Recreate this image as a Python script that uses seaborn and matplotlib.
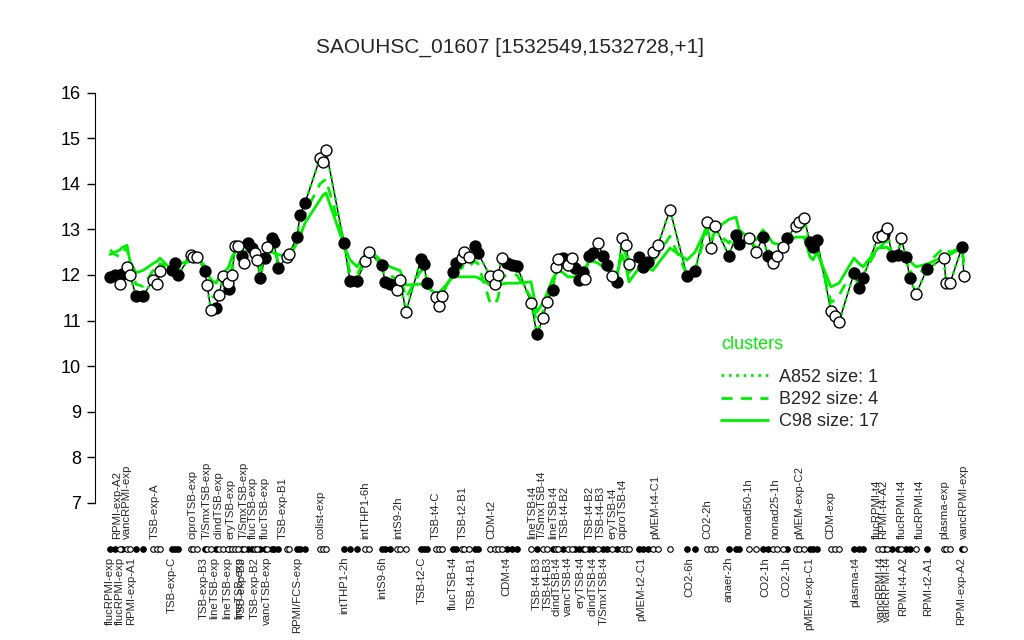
import numpy as np
import pandas as pd
import matplotlib
matplotlib.use("Agg")
import matplotlib.pyplot as plt
import seaborn as sns

# sample position along x, expression, filled marker flag, cluster means
pos = [10, 15, 20, 22, 27, 30, 36, 43, 53, 57,
       60, 72, 75, 78, 91, 93, 97, 105, 107, 111,
       116, 119, 123, 128, 129, 132, 135, 138, 142, 144,
       148, 152, 155, 157, 160, 165, 167, 172, 174, 178,
       187, 189, 197, 200, 205, 220, 223, 226, 244, 250,
       257, 265, 269, 282, 285, 290, 297, 300, 306, 321,
       324, 327, 336, 339, 342, 353, 356, 362, 364, 369,
       375, 378, 390, 395, 398, 402, 407, 412, 417, 431,
       437, 443, 447, 453, 456, 458, 463, 468, 472, 475,
       479, 483, 485, 489, 493, 498, 503, 507, 512, 517,
       522, 526, 529, 539, 543, 548, 553, 558, 570, 587,
       595, 607, 611, 615, 629, 636, 639, 649, 656, 663,
       668, 673, 677, 683, 687, 696, 699, 704, 710, 713,
       717, 731, 735, 739, 754, 759, 763, 778, 782, 784,
       787, 792, 798, 801, 806, 810, 816, 827, 844, 846, 850,
       862, 864]

expr = [11.96, 12.00, 11.80, 12.02, 12.18, 12.00, 11.54, 11.54, 11.89, 11.80,
        12.09, 12.10, 12.26, 12.00, 12.44, 12.40, 12.40, 12.09, 11.78, 11.23,
        11.28, 11.56, 11.98, 11.82, 11.70, 12.00, 12.64, 12.64, 12.42, 12.26,
        12.70, 12.60, 12.48, 12.33, 11.93, 12.37, 12.61, 12.81, 12.72, 12.15,
        12.40, 12.46, 12.83, 13.31, 13.58, 14.56, 14.48, 14.74, 12.70, 11.87,
        11.87, 12.30, 12.50, 12.22, 11.85, 11.80, 11.67, 11.89, 11.19, 12.35,
        12.24, 11.82, 11.52, 11.32, 11.54, 12.07, 12.26, 12.37, 12.50, 12.40,
        12.64, 12.48, 11.98, 11.80, 12.00, 12.37, 12.26, 12.22, 12.20, 11.39,
        10.70, 11.06, 11.41, 11.67, 12.17, 12.35, 12.37, 12.22, 12.37, 12.15,
        11.89, 12.07, 11.91, 12.42, 12.48, 12.70, 12.42, 12.22, 11.98, 11.85,
        12.81, 12.66, 12.24, 12.40, 12.18, 12.28, 12.50, 12.66, 13.43, 11.98,
        12.09, 13.16, 12.59, 13.07, 12.42, 12.88, 12.68, 12.81, 12.50, 12.83,
        12.42, 12.26, 12.42, 12.61, 12.81, 13.07, 13.16, 13.25, 12.72, 12.61,
        12.77, 11.21, 11.10, 10.97, 12.04, 11.71, 11.93, 12.83, 12.85, 12.90,
        13.03, 12.42, 12.44, 12.81, 12.40, 11.93, 11.58, 12.13, 12.37, 11.82, 11.82,
        12.61, 11.98]

filled = [1, 1, 0, 1, 0, 0, 1, 1, 0, 0,
          0, 1, 1, 1, 0, 0, 0, 1, 0, 0,
          1, 0, 0, 0, 1, 0, 0, 0, 1, 0,
          1, 1, 0, 0, 1, 1, 0, 1, 1, 1,
          0, 0, 1, 1, 1, 0, 0, 0, 1, 1,
          1, 0, 0, 1, 1, 1, 0, 0, 0, 1,
          1, 1, 0, 0, 0, 1, 1, 0, 0, 0,
          1, 1, 0, 0, 0, 0, 1, 1, 1, 0,
          1, 0, 0, 1, 0, 0, 1, 0, 0, 1,
          1, 1, 0, 1, 1, 0, 1, 1, 0, 1,
          0, 0, 0, 1, 1, 1, 0, 0, 0, 1,
          1, 0, 0, 0, 1, 1, 1, 0, 0, 1,
          1, 0, 0, 0, 1, 0, 0, 0, 1, 1,
          1, 0, 0, 0, 1, 1, 1, 0, 0, 1,
          0, 1, 1, 0, 1, 1, 0, 1, 0, 0, 0,
          1, 0]

c98 = [12.45, 12.50, 12.55, 12.60, 12.65, 12.30, 12.05, 12.10, 12.25, 12.30,
       12.37, 12.10, 12.20, 12.25, 12.30, 12.32, 12.37, 12.20, 12.05, 11.90,
       11.82, 11.95, 12.05, 12.15, 12.20, 12.40, 12.50, 12.60, 12.65, 12.68,
       12.60, 12.45, 12.40, 12.33, 12.35, 12.45, 12.50, 12.50, 12.48, 12.45,
       12.40, 12.40, 12.70, 12.85, 13.14, 13.65, 13.75, 13.80, 12.65, 12.33,
       12.18, 12.45, 12.55, 12.30, 12.25, 12.18, 12.12, 12.10, 11.78, 11.80,
       11.75, 11.72, 11.60, 11.62, 11.68, 11.96, 11.96, 11.96, 11.96, 11.96,
       11.96, 11.94, 11.78, 11.78, 11.78, 11.80, 11.82, 11.82, 11.82, 11.85,
       11.19, 11.39, 11.60, 11.93, 12.02, 12.10, 12.05, 11.96, 11.96, 11.96,
       11.96, 12.10, 12.15, 12.30, 12.30, 12.26, 12.18, 12.10, 12.07, 12.04,
       12.44, 12.20, 11.85, 12.15, 12.22, 12.15, 12.10, 12.25, 12.59, 12.33,
       12.50, 13.05, 13.00, 13.00, 13.22, 13.27, 13.00, 12.80, 12.77, 12.99,
       12.85, 12.70, 12.68, 12.66, 12.75, 12.83, 12.83, 12.83, 12.40, 12.33,
       12.50, 11.74, 11.78, 11.82, 12.37, 12.25, 12.18, 12.59, 12.60, 12.60,
       12.61, 12.48, 12.46, 12.45, 12.44, 12.30, 12.18, 12.24, 12.40, 12.40, 12.45,
       12.59, 12.55]

b292 = [12.55, 12.45, 12.40, 12.50, 12.60, 12.20, 11.80, 11.75, 12.10, 12.05,
        12.25, 12.15, 12.25, 12.15, 12.40, 12.38, 12.40, 12.15, 11.95, 11.50,
        11.55, 11.75, 12.00, 11.95, 11.90, 12.15, 12.55, 12.60, 12.50, 12.40,
        12.65, 12.55, 12.45, 12.35, 12.10, 12.40, 12.55, 12.65, 12.60, 12.30,
        12.40, 12.42, 12.75, 13.10, 13.35, 14.00, 14.05, 14.10, 12.70, 12.05,
        12.00, 12.35, 12.50, 12.25, 12.05, 12.00, 11.90, 12.00, 11.50, 12.10,
        12.05, 11.80, 11.55, 11.45, 11.60, 12.00, 12.10, 12.15, 12.25, 12.20,
        12.30, 12.25, 11.40, 11.35, 11.50, 11.95, 12.00, 12.00, 12.00, 11.50,
        10.95, 11.20, 11.50, 11.80, 12.10, 12.20, 12.20, 12.10, 12.15, 12.05,
        11.90, 12.05, 12.00, 12.35, 12.40, 12.50, 12.30, 12.15, 12.00, 11.90,
        12.60, 12.45, 12.05, 12.30, 12.20, 12.20, 12.30, 12.45, 12.85, 12.00,
        12.10, 13.00, 12.75, 12.95, 12.70, 12.95, 12.80, 12.80, 12.60, 12.85,
        12.55, 12.45, 12.50, 12.60, 12.80, 12.95, 13.00, 13.05, 12.60, 12.50,
        12.65, 11.40, 11.45, 11.55, 12.15, 11.95, 12.00, 12.60, 12.65, 12.70,
        12.75, 12.45, 12.45, 12.55, 12.40, 12.10, 11.90, 12.25, 12.60, 12.55, 12.50,
        12.60, 12.25]

top_labels = ["RPMI-exp-A2", "vancRPMI-exp", "TSB-exp-A", "ciproTSB-exp", "T/SmxTSB-exp",
              "clindTSB-exp", "eryTSB-exp", "T/SmxTSB-exp", "flucTSB-exp", "flucTSB-exp",
              "TSB-exp-B1", "colist-exp", "intTHP1-6h", "intS9-2h", "TSB-t4-C",
              "TSB-t2-B1", "CDM-t2", "lineTSB-t4", "T/SmxTSB-t4", "lineTSB-t4",
              "TSB-t4-B2", "TSB-t4-B2", "TSB-t4-B3", "eryTSB-t4", "ciproTSB-t4",
              "pMEM-t4-C1", "CO2-2h", "nonad50-1h", "nonad25-1h", "pMEM-exp-C2",
              "CDM-exp", "flucRPMI-t4", "RPMI-t4-A2", "flucRPMI-t4", "flucRPMI-t4",
              "plasma-exp", "vancRPMI-exp"]
top_pos = [17, 27, 55, 92, 107, 118, 131, 144, 153, 165,
           183, 221, 265, 298, 336, 363, 391, 432, 442, 453,
           465, 490, 501, 512, 522, 555, 607, 648, 675, 699,
           730, 777, 783, 802, 820, 844, 864]

bottom_labels = ["flucRPMI-exp", "flucRPMI-exp", "RPMI-exp-A1", "TSB-exp-C", "TSB-exp-B3",
                 "lineTSB-exp", "lineTSB-exp", "lineTSB-exp", "TSB-exp-B3", "TSB-exp-B2",
                 "vancTSB-exp", "RPMI/FCS-exp", "intTHP1-2h", "intS9-6h", "TSB-t2-C",
                 "flucTSB-t4", "TSB-t4-B1", "CDM-t4", "TSB-t4-B3", "TSB-t4-B3",
                 "clindTSB-t4", "vancTSB-t4", "eryTSB-t4", "clindTSB-t4", "T/SmxTSB-t4",
                 "pMEM-t2-C1", "CO2-6h", "anaer-2h", "CO2-1h", "CO2-1h",
                 "pMEM-exp-C1", "plasma-t4", "vancRPMI-t4", "vancRPMI-t4", "RPMI-t4-A2",
                 "RPMI-t2-A1", "RPMI-exp-A2"]
bottom_pos = [10, 20, 31, 72, 104, 114, 127, 139, 142, 155,
              167, 197, 244, 282, 322, 353, 372, 406, 437, 448,
              457, 468, 481, 493, 504, 541, 589, 629, 665, 686,
              709, 755, 781, 787, 803, 828, 861]

sns.set_style("white")
plt.rcParams['font.family'] = ['Liberation Sans', 'DejaVu Sans']

df = pd.DataFrame({'pos': pos, 'expr': expr, 'filled': filled,
                   'c98': c98, 'b292': b292})
df['row'] = 6.0
full = df[df.filled == 1]
hollow = df[df.filled == 0]

green = '#00ee00'

fig = plt.figure(figsize=(10.24, 6.4), dpi=100)
ax = fig.add_axes([95 / 1024, 80 / 640, 885 / 1024, 480 / 640])

# gene profile line, then cluster profiles
sns.lineplot(data=df, x='pos', y='expr', sort=False, estimator=None,
             color='black', lw=1, ax=ax, zorder=2)
sns.lineplot(data=df, x='pos', y='expr', sort=False, estimator=None,
             color=green, lw=2, ls=':', ax=ax, zorder=3, label='A852 size: 1')
sns.lineplot(data=df, x='pos', y='b292', sort=False, estimator=None,
             color=green, lw=2, ls=(0, (4, 3)), ax=ax, zorder=3, label='B292 size: 4')
sns.lineplot(data=df, x='pos', y='c98', sort=False, estimator=None,
             color=green, lw=2, ls='-', ax=ax, zorder=3, label='C98 size: 17')

# points
sns.scatterplot(data=full, x='pos', y='expr', color='black', edgecolor='black',
                s=62, linewidth=1, ax=ax, zorder=4)
sns.scatterplot(data=hollow, x='pos', y='expr', color='white', edgecolor='black',
                s=62, linewidth=1, ax=ax, zorder=4)

# sample row
sns.scatterplot(data=full, x='pos', y='row', color='black', edgecolor='black',
                s=16, linewidth=0.8, ax=ax, zorder=4, clip_on=False)
sns.scatterplot(data=hollow, x='pos', y='row', color='white', edgecolor='black',
                s=16, linewidth=0.8, ax=ax, zorder=4, clip_on=False)

for p, t in zip(top_pos, top_labels):
    ax.text(p, 6.2, t, rotation=90, ha='center', va='bottom', fontsize=8.2, clip_on=False)
for p, t in zip(bottom_pos, bottom_labels):
    ax.text(p, 5.82, t, rotation=90, ha='center', va='top', fontsize=8.2, clip_on=False)

ax.set_xlim(-5, 880)
ax.set_ylim(5.75, 16.276)
ax.set_yticks(range(7, 17))
ax.set_xticks([])
ax.set_xlabel('')
ax.set_ylabel('')
sns.despine(ax=ax, bottom=True)
ax.spines['left'].set_bounds(7, 16)
ax.spines['left'].set_color('black')
ax.tick_params(axis='y', left=True, direction='out', length=6, width=1,
               labelsize=13, pad=4, colors='black')

handles, labels = ax.get_legend_handles_labels()
leg = ax.legend(handles, labels, title='clusters', loc='upper left',
                bbox_to_anchor=(705 / 1024, 1 - 320 / 640), bbox_transform=fig.transFigure,
                frameon=False, fontsize=13, title_fontsize=13, handlelength=2.6,
                handletextpad=0.6, alignment='left', labelspacing=0.3)
leg.get_title().set_color(green)
leg._legend_box.sep = 11

fig.text(0.498, 1 - 47 / 640, 'SAOUHSC_01607 [1532549,1532728,+1]',
         ha='center', va='center', fontsize=15)

fig.savefig('out.png', dpi=100)
